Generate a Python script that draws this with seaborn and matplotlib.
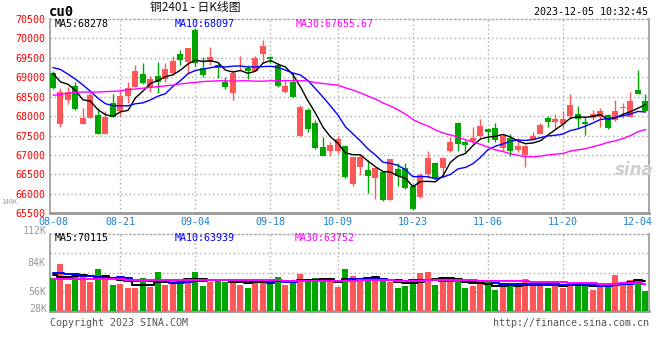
import numpy as np
import pandas as pd
import matplotlib
matplotlib.use("Agg")
import matplotlib.pyplot as plt
import matplotlib.transforms as mtransforms
import seaborn as sns

# 日K数据 (08-08 ~ 12-05, 80个交易日)
opens = [69120, 67800, 68420, 68780, 67800, 67960, 68030, 67540, 68330, 68120,
         68520, 68740, 69090, 68740, 69030, 68950, 69120, 69600, 69400, 70220,
         69230, 69400, 69320, 68890, 68600, 69230, 69250, 69170, 69600, 69510,
         69320, 68630, 68890, 67500, 68160, 67820, 67200, 67110, 67110, 67220,
         66250, 66680, 66620, 66420, 66570, 65840, 66640, 66660, 66200, 65910,
         66510, 66790, 66670, 67110, 67830, 67340, 67370, 67490, 67660, 67690,
         67170, 67430, 67130, 67000, 67390, 67540, 67940, 67860, 67800, 68000,
         68060, 67860, 67940, 67970, 68030, 67900, 68200, 67990, 68670, 68400]
highs = [69150, 68720, 68740, 68890, 68200, 68630, 68200, 68120, 68570, 68670,
         68890, 69320, 69360, 69030, 69400, 69380, 69550, 69690, 69760, 70270,
         69530, 69790, 69380, 69020, 69200, 69550, 69320, 69550, 69960, 69550,
         69360, 68930, 69100, 68290, 68200, 67900, 67470, 67340, 67490, 67260,
         66960, 67000, 66870, 66660, 66570, 66900, 66790, 66790, 66250, 66530,
         67110, 66830, 66960, 67460, 67860, 67390, 67730, 67920, 67690, 67830,
         67540, 67540, 67430, 67260, 67600, 67830, 68000, 68060, 68120, 68570,
         68260, 67970, 68160, 68200, 68060, 68420, 68350, 68610, 69190, 68570]
lows = [68700, 67710, 68310, 68160, 67800, 67960, 67540, 67540, 67970, 68000,
        68350, 68740, 68830, 68630, 68600, 68890, 69060, 69320, 69120, 69290,
        69020, 69320, 68970, 68690, 68420, 69190, 68950, 69150, 69380, 69360,
        68760, 68590, 68500, 67500, 67600, 67160, 66980, 66980, 67040, 66400,
        66190, 66490, 66030, 65860, 65820, 65840, 66190, 66120, 65590, 65900,
        66400, 66370, 66440, 67090, 67110, 67090, 67300, 67430, 67340, 67340,
        67110, 66980, 67090, 66700, 67390, 67540, 67710, 67660, 67690, 67920,
        67690, 67520, 67900, 67730, 67660, 67880, 67940, 67970, 68570, 68120]
closes = [68720, 68630, 68630, 68180, 67940, 68540, 67540, 67990, 67970, 68520,
          68720, 69160, 68860, 68950, 68890, 69210, 69420, 69450, 69750, 69360,
          69060, 69510, 69230, 68760, 69120, 69250, 69150, 69500, 69800, 69460,
          68780, 68780, 68500, 68240, 67670, 67190, 66980, 67260, 67400, 66440,
          66960, 66960, 66460, 66660, 65840, 66890, 66460, 66140, 65600, 66490,
          66920, 66400, 66920, 67340, 67280, 67260, 67430, 67750, 67580, 67390,
          67490, 67110, 67230, 67230, 67490, 67770, 67860, 67920, 67920, 68290,
          67920, 67800, 68060, 68120, 67690, 68120, 68240, 68400, 68570, 68140]
volumes = [68240, 82070, 62770, 72420, 71450, 65020, 77570, 66630, 61800, 62770,
           59230, 59230, 68240, 60190, 74350, 61800, 67590, 65660, 68240, 74350,
           61160, 65020, 65660, 65020, 67590, 61800, 59230, 67590, 66630, 63410,
           69850, 61800, 64370, 72420, 65020, 68880, 65660, 64370, 60190, 77570,
           70810, 65660, 67590, 67590, 66630, 64370, 59230, 61160, 66630, 73710,
           74670, 61800, 65000, 67590, 67590, 59230, 60840, 62440, 64370, 56970,
           60840, 62770, 60840, 67590, 61160, 63410, 59230, 63410, 59230, 61800,
           63410, 61800, 56970, 60190, 61160, 71450, 65020, 66630, 67590, 56010]

# 窗口之前的均线值
ma5_head = [69100, 68880, 68820, 68660]
ma10_head = [69250, 69200, 69080, 68950, 68800, 68640, 68460, 68320, 68270]
ma30_head = [68540, 68560, 68590, 68610, 68620, 68620, 68620, 68630, 68640, 68650,
             68680, 68700, 68720, 68740, 68760, 68780, 68800, 68830, 68850, 68870,
             68890, 68900, 68910, 68910, 68900, 68910, 68910, 68900, 68900]
vma5_head = [71450, 69200, 69200, 70800]
vma10_head = [73710, 73710, 72420, 72420, 70810, 70810, 69850, 68880, 68880]
vma30_head = [67600] * 10 + [67000] * 19

tick_idx = [0, 9, 19, 29, 38, 48, 58, 68, 78]
tick_labels = ['08-08', '08-21', '09-04', '09-18', '10-09', '10-23', '11-06', '11-20', '12-04']

RED = '#ff5757'
GREEN = '#00a600'
GRID = '#aaaaaa'
EDGE = '#999999'

sns.set_theme(style='white')
plt.rcParams['font.family'] = ['DejaVu Sans Mono', 'Noto Sans CJK SC']
plt.rcParams['axes.unicode_minus'] = False

opens_a = np.array(opens, float)
closes_a = np.array(closes, float)
idx = np.arange(len(closes))
up = closes_a >= opens_a
col = np.where(up, RED, GREEN)


def with_head(series, n, head):
    out = pd.Series(series, dtype=float).rolling(n).mean().to_numpy()
    out[:len(head)] = head
    return out


ma5 = with_head(closes, 5, ma5_head)
ma10 = with_head(closes, 10, ma10_head)
ma30 = with_head(closes, 30, ma30_head)
vma5 = with_head(volumes, 5, vma5_head)
vma10 = with_head(volumes, 10, vma10_head)
vma30 = with_head(volumes, 30, vma30_head)

W, H = 660, 360
fig = plt.figure(figsize=(6.6, 3.6), dpi=100)


def box(l, t, r, b):
    return [l / W, 1 - b / H, (r - l) / W, (b - t) / H]


def ftext(x, y, s, **kw):
    kw.setdefault('va', 'center')
    fig.text(x / W, 1 - y / H, s, **kw)


ax = fig.add_axes(box(50, 19, 649, 213.3))
axv = fig.add_axes(box(50, 234, 649, 311))

FS = 7.2
up2 = mtransforms.ScaledTranslation(0, 0.02, fig.dpi_scale_trans)

# 蜡烛图
ax.vlines(idx, lows, highs, colors=col, lw=1, zorder=3)
body_lo = np.minimum(opens_a, closes_a)
body_h = np.maximum(np.abs(closes_a - opens_a), 20)
ax.bar(idx, body_h, bottom=body_lo, width=0.8, color=col, linewidth=0, zorder=3)

sns.lineplot(x=idx, y=ma5, ax=ax, color='black', lw=1, zorder=4)
sns.lineplot(x=idx, y=ma10, ax=ax, color='#0000ff', lw=1, zorder=4)
sns.lineplot(x=idx, y=ma30, ax=ax, color='#ff00ff', lw=1, zorder=4)

ax.set_xlim(-0.4, 79.47)
ax.set_ylim(65500, 70500)
ax.set_yticks(np.arange(65500, 70501, 500))
ax.set_yticklabels([str(v) for v in range(65500, 70501, 500)], color='#ff0000', fontsize=FS)
for lab in ax.get_yticklabels():
    lab.set_transform(lab.get_transform() + up2)
ax.set_xticks(tick_idx)
ax.set_xticklabels(tick_labels, color='#1a80d8', fontsize=FS)
ax.tick_params(length=0, pad=3)
ax.set_xlabel('')
ax.set_ylabel('')
for v in range(66000, 70001, 500):
    ax.axhline(v, color=GRID, lw=1, ls=(0, (1, 2)), zorder=1)

# 成交量
VOL_LO, VOL_HI = 36700, 111000
axv.bar(idx, volumes, width=0.8, color=col, linewidth=0, zorder=3)
sns.lineplot(x=idx, y=vma5, ax=axv, color='black', lw=1.4, drawstyle='steps-mid', zorder=4)
sns.lineplot(x=idx, y=vma10, ax=axv, color='#0000ff', lw=1.4, drawstyle='steps-mid', zorder=4)
sns.lineplot(x=idx, y=vma30, ax=axv, color='#ff00ff', lw=1.4, drawstyle='steps-mid', zorder=4)
axv.set_xlim(-0.4, 79.47)
axv.set_ylim(VOL_LO, VOL_HI)
axv.set_xticks([])
axv.set_yticks([56000, 84000])
axv.set_yticklabels(['56K', '84K'], color='#999999', fontsize=FS)
for lab in axv.get_yticklabels():
    lab.set_transform(lab.get_transform() + up2)
axv.tick_params(length=0, pad=3)
axv.set_xlabel('')
axv.set_ylabel('')
for k in (1, 2, 3):
    axv.axhline(VOL_LO + k * (VOL_HI - VOL_LO) / 4, color=GRID, lw=1, ls=(0, (1, 2)), zorder=1)

for a in (ax, axv):
    for t in tick_idx[1:-1]:
        a.axvline(t, color=GRID, lw=1, ls=(0, (1, 2)), zorder=1)
    for s in ('left', 'right', 'bottom'):
        a.spines[s].set_color(EDGE)
        a.spines[s].set_linewidth(1.2)
    a.spines['top'].set_color(GRID)
    a.spines['top'].set_linestyle((0, (1, 2)))
    a.spines['top'].set_linewidth(1)
    a.set_facecolor('white')
ax.spines['bottom'].set_linewidth(2)
axv.spines['bottom'].set_linewidth(2)

# 文字
ftext(49, 12.5, 'cu0', fontsize=10, fontweight='bold', color='black')
ftext(195, 8, '铜2401 - 日K线图', fontsize=8.5, ha='center',
      family=['Noto Sans CJK SC', 'DejaVu Sans'], color='#111111')
ftext(648, 12, '2023-12-05 10:32:45', fontsize=FS, ha='right', color='black')
ftext(1.5, 202, '140K', fontsize=4.8, ha='left', color='#999999')

ftext(55, 24, 'MA5:68278', fontsize=FS, color='black')
ftext(175, 24, 'MA10:68097', fontsize=FS, color='#0000ff')
ftext(296, 24, 'MA30:67655.67', fontsize=FS, color='#ff00ff')

ftext(55, 238, 'MA5:70115', fontsize=FS, color='black')
ftext(175, 238, 'MA10:63939', fontsize=FS, color='#0000ff')
ftext(295, 238, 'MA30:63752', fontsize=FS, color='#ff00ff')

ftext(47, 231, '112K', fontsize=FS, ha='right', color='#999999')
ftext(47, 309, '28K', fontsize=FS, ha='right', color='#999999')

ftext(634, 170, 'sina', fontsize=12, ha='center', color='#cfcfcf',
      fontstyle='italic', fontweight='bold', family=['DejaVu Sans'])

ftext(50, 323, 'Copyright 2023 SINA.COM', fontsize=FS, color='#555555')
ftext(649, 323, 'http://finance.sina.com.cn', fontsize=FS, ha='right', color='#555555')

fig.savefig('out.png', dpi=100)
